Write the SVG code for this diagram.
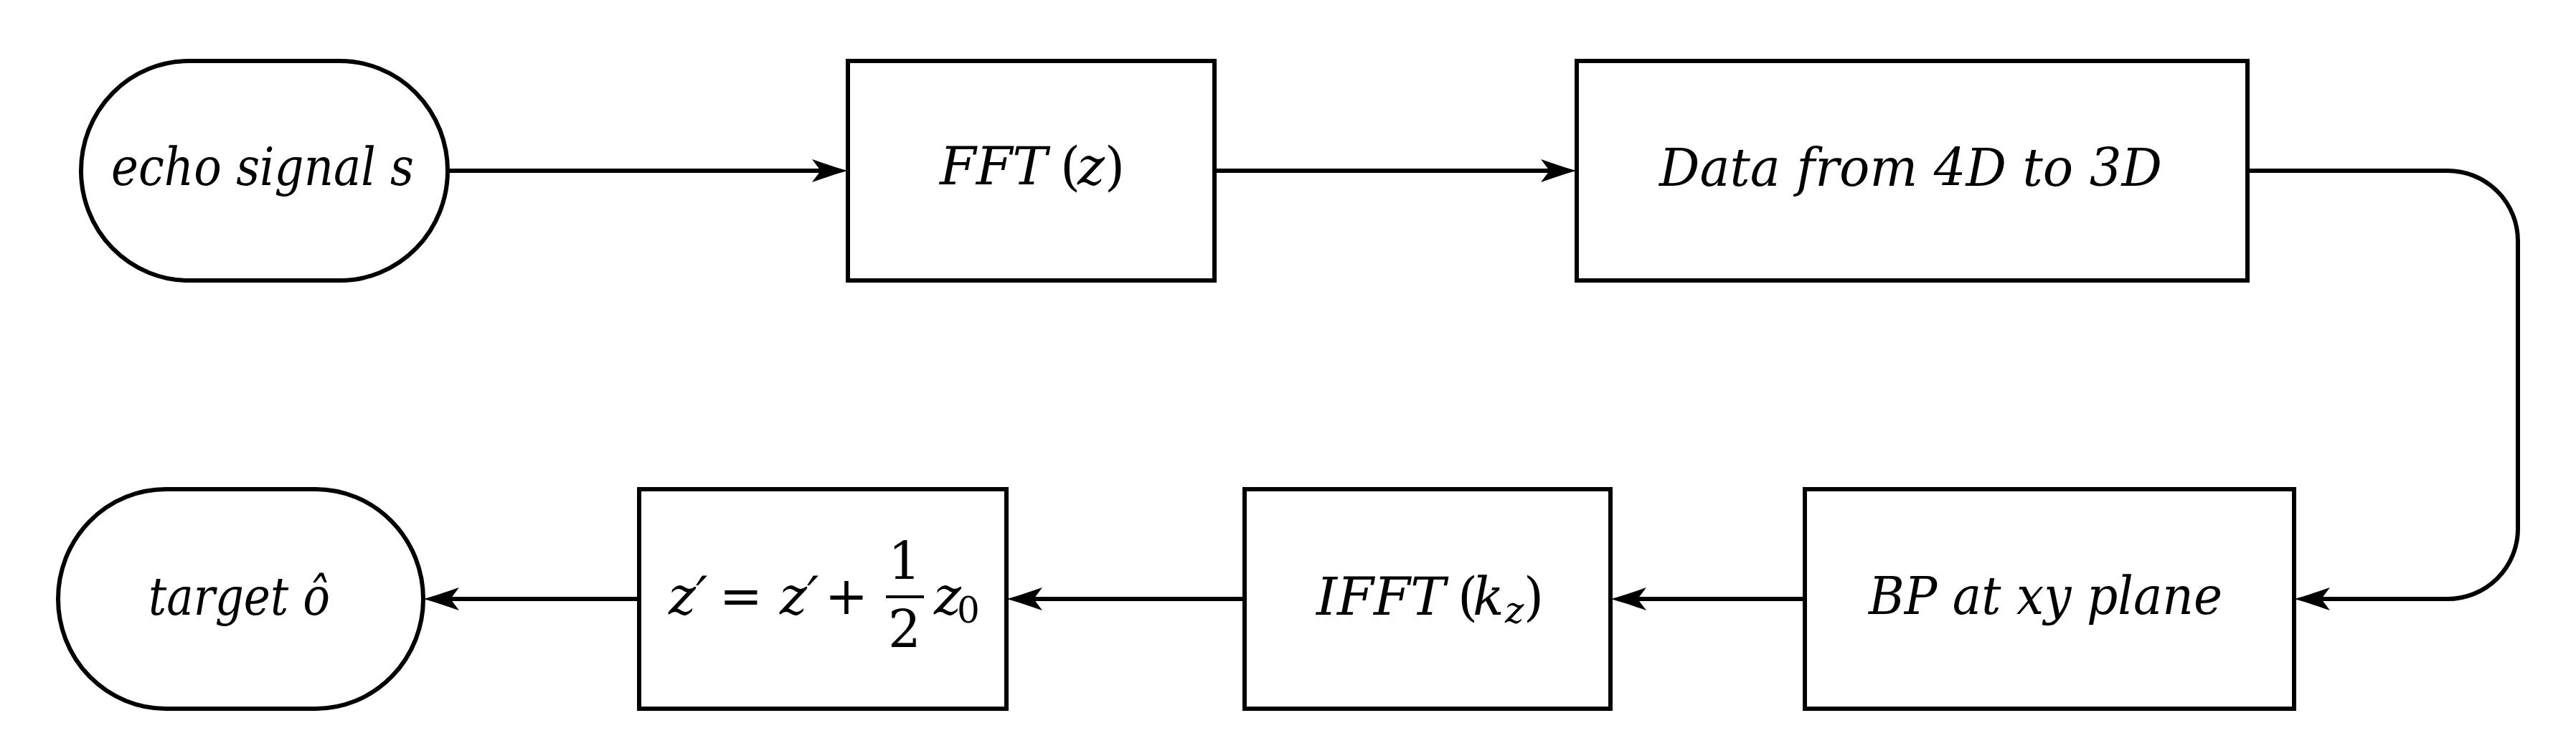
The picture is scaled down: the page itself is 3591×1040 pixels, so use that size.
<svg xmlns="http://www.w3.org/2000/svg" width="3591" height="1040" viewBox="0 0 3591 1040">
  <style>
    .node { fill: #ffffff; stroke: #000000; stroke-width: 6; }
    .edge { fill: none; stroke: #000000; stroke-width: 6; }
    .lbl { font-family: "DejaVu Serif", "Liberation Serif", serif; font-size: 72px; font-style: italic; fill: #000000; }
    .up { font-style: normal; }
    .sub { font-size: 50px; }
  </style>
  <defs>
    <marker id="arrow" markerUnits="userSpaceOnUse" markerWidth="60" markerHeight="40" viewBox="0 -20 60 40" refX="12" refY="0" orient="auto">
      <path d="M 50 0 C 38 -3, 20 -9, 0 -16 L 12 0 L 0 16 C 20 9, 38 3, 50 0 Z" fill="#000000"/>
    </marker>
  </defs>
  <rect width="3591" height="1040" fill="#ffffff"/>

  <g id="connectors">
    <path class="edge" d="M 625 238 H 1144" marker-end="url(#arrow)"/>
    <path class="edge" d="M 1693 238 H 2160" marker-end="url(#arrow)"/>
    <path class="edge" d="M 3133 238 H 3412 A 98 98 0 0 1 3510 336 V 737 A 98 98 0 0 1 3412 835 H 3236" marker-end="url(#arrow)"/>
    <path class="edge" d="M 2516 835 H 2283" marker-end="url(#arrow)"/>
    <path class="edge" d="M 1735 835 H 1441" marker-end="url(#arrow)"/>
    <path class="edge" d="M 891 835 H 628" marker-end="url(#arrow)"/>
  </g>

  <g id="echo">
    <rect class="node" x="113" y="85" width="511" height="306" rx="150" ry="153"/>
    <text class="lbl" x="155" y="258" textLength="422" lengthAdjust="spacingAndGlyphs">echo signal s</text>
  </g>

  <g id="fft">
    <rect class="node" x="1182" y="85" width="511" height="306"/>
    <text class="lbl" y="257"><tspan x="1310" textLength="150" lengthAdjust="spacingAndGlyphs">FFT</tspan><tspan class="up" x="1478">(</tspan><tspan x="1502">z</tspan><tspan class="up" x="1540">)</tspan></text>
  </g>

  <g id="data">
    <rect class="node" x="2198" y="85" width="935" height="306"/>
    <text class="lbl" x="2313" y="259" textLength="701" lengthAdjust="spacingAndGlyphs">Data from 4D to 3D</text>
  </g>

  <g id="bp">
    <rect class="node" x="2516" y="682" width="682" height="306"/>
    <text class="lbl" x="2605" y="856" textLength="493" lengthAdjust="spacingAndGlyphs">BP at xy plane</text>
  </g>

  <g id="ifft">
    <rect class="node" x="1735" y="682" width="510" height="306"/>
    <text class="lbl" y="857"><tspan x="1835" textLength="180" lengthAdjust="spacingAndGlyphs">IFFT</tspan><tspan class="up" x="2032">(</tspan><tspan x="2053">k</tspan><tspan class="sub" x="2098" y="868">z</tspan><tspan class="up" x="2124" y="857">)</tspan></text>
  </g>

  <g id="zshift">
    <rect class="node" x="891" y="682" width="512" height="306"/>
    <text class="lbl" y="856"><tspan x="932">z′</tspan><tspan class="up" x="1033" text-anchor="middle">=</tspan><tspan x="1087">z′</tspan><tspan class="up" x="1180" text-anchor="middle">+</tspan><tspan x="1302">z</tspan><tspan class="up sub" x="1334" y="868">0</tspan></text>
    <text class="lbl up" x="1261" y="808" text-anchor="middle">1</text>
    <line x1="1235" y1="832" x2="1288" y2="832" stroke="#000000" stroke-width="4"/>
    <text class="lbl up" x="1261" y="903" text-anchor="middle">2</text>
  </g>

  <g id="target">
    <rect class="node" x="81" y="682" width="509" height="306" rx="150" ry="153"/>
    <text class="lbl" x="207" y="857" textLength="253" lengthAdjust="spacingAndGlyphs">target ô</text>
  </g>
</svg>
